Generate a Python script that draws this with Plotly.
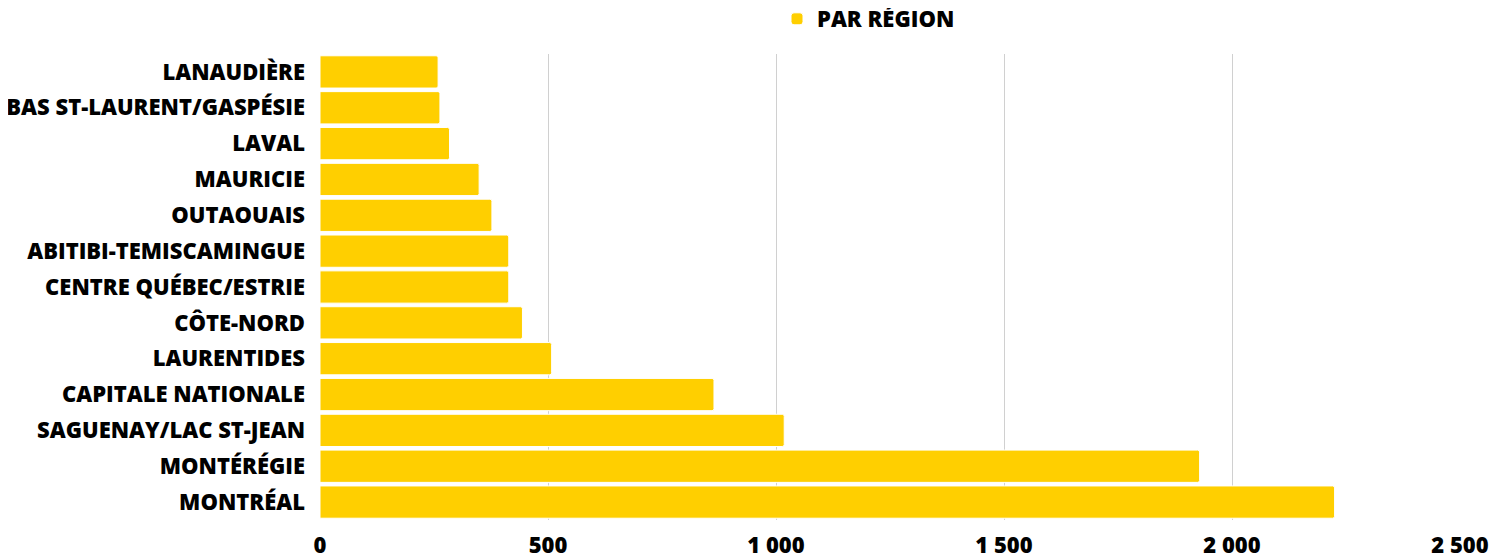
import plotly.graph_objects as go

regions = [
    "LANAUDIÈRE", "BAS ST-LAURENT/GASPÉSIE", "LAVAL", "MAURICIE", "OUTAOUAIS",
    "ABITIBI-TEMISCAMINGUE", "CENTRE QUÉBEC/ESTRIE", "CÔTE-NORD", "LAURENTIDES",
    "CAPITALE NATIONALE", "SAGUENAY/LAC ST-JEAN", "MONTÉRÉGIE", "MONTRÉAL",
]
values = [259, 263, 284, 349, 377, 414, 414, 444, 508, 864, 1018, 1929, 2225]
series_name = "PAR RÉGION"
x_ticks = [0, 500, 1000, 1500, 2000, 2500]

font_bold = dict(family="Open Sans", size=22, color="#000000", weight=800)

fig = go.Figure(
    go.Bar(
        x=values,
        y=regions,
        orientation="h",
        name=series_name,
        showlegend=True,
        marker=dict(color="#FFCF00", line=dict(color="#FFFFFF", width=1), cornerradius=2),
    )
)

fig.update_layout(
    width=1496,
    height=547,
    margin=dict(l=312, r=44, t=46, b=35, autoexpand=False),
    paper_bgcolor="white",
    plot_bgcolor="white",
    bargap=0.1,
    separators=", ",
    font=font_bold,
    legend=dict(
        orientation="h",
        x=(777 - 320) / 1140,
        xanchor="left",
        y=1 + 35 / 466,
        yanchor="middle",
        font=font_bold,
        bgcolor="rgba(0,0,0,0)",
    ),
    xaxis=dict(
        range=[0, 2500],
        tickvals=x_ticks,
        separatethousands=True,
        showgrid=True,
        gridcolor="#D0D0D0",
        gridwidth=1,
        zeroline=False,
        showline=False,
        tickfont=font_bold,
        ticklabelstandoff=10,
        automargin=False,
        fixedrange=True,
    ),
    yaxis=dict(
        autorange="reversed",
        showgrid=False,
        zeroline=False,
        showline=False,
        tickfont=font_bold,
        ticklabelstandoff=14,
        automargin=False,
        fixedrange=True,
    ),
)

fig.write_html("out.html")
